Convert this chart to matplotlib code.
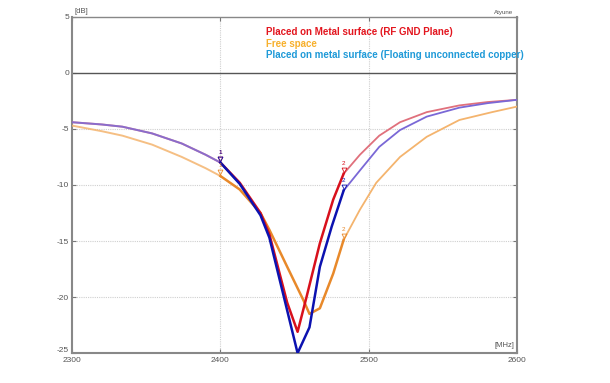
import numpy as np
import matplotlib
matplotlib.use('Agg')
import matplotlib.pyplot as plt
import matplotlib.transforms as mtransforms

plt.rcParams['font.family'] = ['Liberation Sans', 'DejaVu Sans']
plt.rcParams['axes.unicode_minus'] = False

# S11 traces (MHz, dB)
freq_red = [2300, 2320, 2334, 2354, 2374, 2390, 2400, 2413, 2427, 2433, 2445, 2452,
            2458, 2467, 2476, 2483, 2494, 2507, 2521, 2539, 2561, 2580, 2600]
db_red = [-4.4, -4.6, -4.8, -5.4, -6.3, -7.3, -8.0, -9.8, -12.5, -14.4, -20.5, -23.1,
          -20.0, -15.2, -11.3, -9.0, -7.3, -5.6, -4.4, -3.5, -2.9, -2.6, -2.4]

freq_blue = [2300, 2320, 2334, 2354, 2374, 2390, 2400, 2413, 2427, 2433, 2445, 2452,
             2460, 2467, 2475, 2483, 2494, 2507, 2521, 2539, 2561, 2580, 2600]
db_blue = [-4.4, -4.6, -4.8, -5.4, -6.3, -7.3, -8.0, -9.9, -12.7, -14.7, -21.2, -25.0,
           -22.7, -17.3, -13.7, -10.5, -8.7, -6.6, -5.1, -3.9, -3.1, -2.7, -2.4]

freq_orange = [2300, 2320, 2334, 2354, 2374, 2390, 2400, 2413, 2427, 2433, 2445, 2456,
               2460, 2467, 2476, 2483, 2494, 2505, 2521, 2539, 2561, 2583, 2600]
db_orange = [-4.7, -5.2, -5.6, -6.4, -7.5, -8.5, -9.2, -10.4, -12.5, -14.0, -17.3, -20.3,
             -21.5, -21.0, -17.9, -14.9, -12.2, -9.8, -7.5, -5.7, -4.2, -3.5, -3.0]

markers = [2400, 2483]
legend_labels = ['Placed on Metal surface (RF GND Plane)', 'Free space',
                 'Placed on metal surface (Floating unconnected copper)']
legend_colors = ['#e3161f', '#f7b02c', '#1f9ad8']

fig = plt.figure(figsize=(6.10, 3.83), dpi=100)
ax = fig.add_axes([0.118, 0.078, 0.730, 0.878])

traces = [
    (freq_orange, db_orange, '#f4b46e', '#e8892a'),
    (freq_red, db_red, '#e0707c', '#d8101c'),
    (freq_blue, db_blue, '#7a68d6', '#0c12b0'),
]

for f, d, light, dark in traces:
    f = np.array(f, dtype=float)
    d = np.array(d, dtype=float)
    inside = (f >= markers[0]) & (f <= markers[1])
    left = f <= markers[0]
    right = f >= markers[1]
    ax.plot(f[left], d[left], color=light, lw=1.4, alpha=0.85, zorder=3)
    ax.plot(f[right], d[right], color=light, lw=1.3, zorder=3)
    ax.plot(f[inside], d[inside], color=dark, lw=1.8, zorder=4)
    for k, m in enumerate(markers):
        v = np.interp(m, f, d)
        ax.plot(m, v + 0.35, marker='v', ms=3.5, mfc='none', mec=dark, mew=0.6, zorder=5)
        ax.text(m, v + 0.9, str(k + 1), color=dark, fontsize=4.5, ha='center', va='center', zorder=5)

ax.set_xlim(2300, 2600)
ax.set_ylim(-25, 5)
ax.set_xticks([2300, 2400, 2500, 2600])
ax.set_yticks([5, 0, -5, -10, -15, -20, -25])
ax.tick_params(axis='both', direction='in', length=3, width=0.8, colors='#777777',
               labelsize=6, labelcolor='#555555', right=True, top=True)
ax.tick_params(axis='x', pad=3)
ax.tick_params(axis='y', pad=2)

# lift the bottom y label a little so it clears the first x label
fig.canvas.draw()
ylabs = ax.get_yticklabels()
ylabs[-1].set_transform(ylabs[-1].get_transform() +
                        mtransforms.ScaledTranslation(0, 2.5 / 72, fig.dpi_scale_trans))

# grid
for yv in [-5, -10, -15, -20]:
    ax.axhline(yv, color='#cfcfcf', lw=0.8, ls=(0, (1, 1)), zorder=1)
for xv in [2400, 2500]:
    ax.axvline(xv, color='#cfcfcf', lw=0.8, ls=(0, (1, 1)), zorder=1)
ax.axhline(0, color='#555555', lw=1.0, zorder=2)

for side in ['left', 'bottom', 'right']:
    ax.spines[side].set_color('#888888')
    ax.spines[side].set_linewidth(1.5)
ax.spines['top'].set_color('#888888')
ax.spines['top'].set_linewidth(1.0)

ax.text(2302, 5.15, '[dB]', fontsize=5.5, color='#555555', ha='left', va='bottom')
ax.text(2597, 5.15, 'Atyune', fontsize=4.5, color='#555555', ha='right', va='bottom')
ax.text(2598, -24.6, '[MHz]', fontsize=5.5, color='#555555', ha='right', va='bottom')

for i, (lab, col) in enumerate(zip(legend_labels, legend_colors)):
    ax.text(2431, 3.65 - i * 1.03, lab, color=col, fontsize=7.0, fontweight='bold',
            ha='left', va='center')

fig.savefig('out.png', dpi=100, facecolor='white')
